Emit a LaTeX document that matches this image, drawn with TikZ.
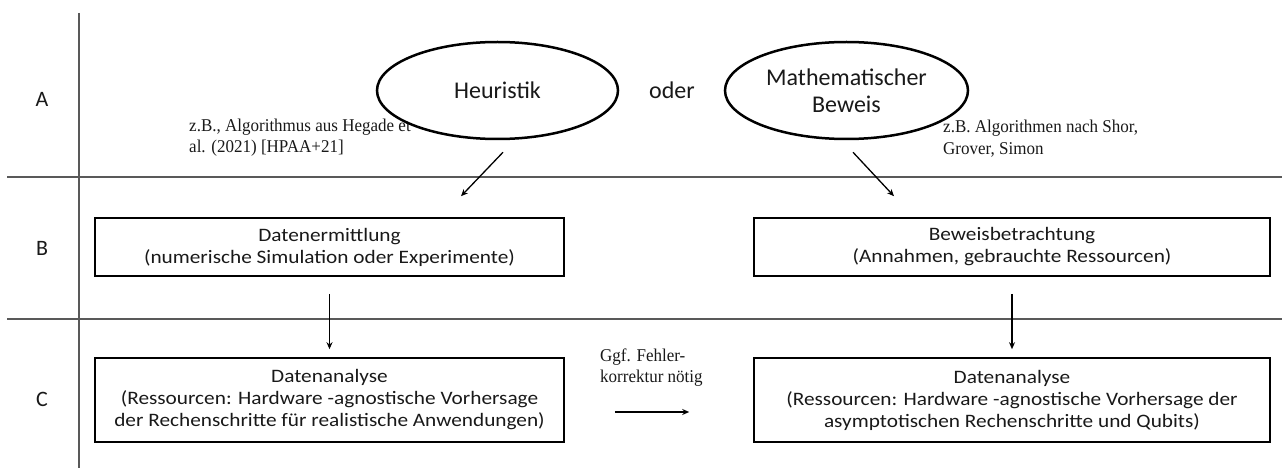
\documentclass[tikz,border=0pt]{standalone}
\usepackage{fontspec}
\setmainfont{Carlito}
\newfontfamily\tnr[FakeStretch=0.945]{Liberation Serif}
\newfontfamily\boxfont[FakeStretch=1.12]{Carlito}
\usetikzlibrary{shapes.geometric,arrows.meta}
\begin{document}
\begin{tikzpicture}[x=1pt,y=-1pt,
  rule/.style={draw=black!65,line width=1.1pt},
  box/.style={draw,line width=1.6pt,rectangle,inner sep=0pt,align=center,text=black!90,font=\boxfont\fontsize{19}{22}\selectfont},
  oval/.style={draw,ellipse,fill=white,line width=2.5pt,inner sep=0pt,align=center,text=black!90,font=\fontsize{24}{27}\selectfont},
  note/.style={anchor=west,align=left,inner sep=0pt,text=black!90,font=\tnr\fontsize{18}{21.5}\selectfont},
  lbl/.style={inner sep=0pt,text=black!90,font=\fontsize{22}{24}\selectfont},
  arr/.style={-{Stealth[length=7pt,width=6pt]},line width=1.3pt}]
\useasboundingbox (0,0) rectangle (1282,468);

% grid lines
\draw[rule] (79,13) -- (79,468);
\draw[rule] (7,177) -- (1282,177);
\draw[rule] (7,319) -- (1282,319);

% row labels
\node[lbl] (la) at (42,99) {A};
\node[lbl] (lb) at (42,248) {B};
\node[lbl] (lc) at (42,399) {C};

% notes
\node[note] (n1) at (189,137.5) {z.B., Algorithmus aus Hegade et\\al. (2021) [HPAA+21]};
\node[note] (n2) at (943,138.5) {z.B. Algorithmen nach Shor,\\Grover, Simon};
\node[note] (n3) at (600,367.5) {Ggf. Fehler-\\korrektur nötig};

% ellipses
\node[oval,minimum width=241pt,minimum height=97pt] (e1) at (497.5,90.5) {Heuristik};
\node[oval,minimum width=243pt,minimum height=97pt] (e2) at (846.5,90.5) {Mathematischer\\Beweis};
\node[lbl,font=\fontsize{24}{27}\selectfont] (oder) at (672,90.5) {oder};

% boxes
\node[box,minimum width=469pt,minimum height=58pt] (b1) at (329.5,247) {Datenermittlung\\(numerische Simulation oder Experimente)};
\node[box,minimum width=516pt,minimum height=58pt] (b2) at (1012,247) {Beweisbetrachtung\\(Annahmen, gebrauchte Ressourcen)};
\node[box,minimum width=469pt,minimum height=84pt] (c1) at (329.5,400) {Datenanalyse\\(Ressourcen: Hardware -agnostische Vorhersage\\der Rechenschritte für realistische Anwendungen)};
\node[box,minimum width=516pt,minimum height=84pt] (c2) at (1012,400) {Datenanalyse\\(Ressourcen: Hardware -agnostische Vorhersage der\\asymptotischen Rechenschritte und Qubits)};

% connectors
\draw[arr] ([xshift=5.5pt,yshift=-12pt]e1.south) -- ([xshift=131.5pt,yshift=21pt]b1.north);
\draw[arr] ([xshift=6.5pt,yshift=-12pt]e2.south) -- ([xshift=-118pt,yshift=21pt]b2.north);
\draw[arr] ([yshift=-17pt]b1.south) -- ([yshift=8pt]c1.north);
\draw[arr] ([yshift=-17pt]b2.south) -- ([yshift=8pt]c2.north);
\draw[arr] ([xshift=50pt,yshift=-12pt]c1.east) -- ([xshift=-64pt,yshift=-12pt]c2.west);
\end{tikzpicture}
\end{document}
